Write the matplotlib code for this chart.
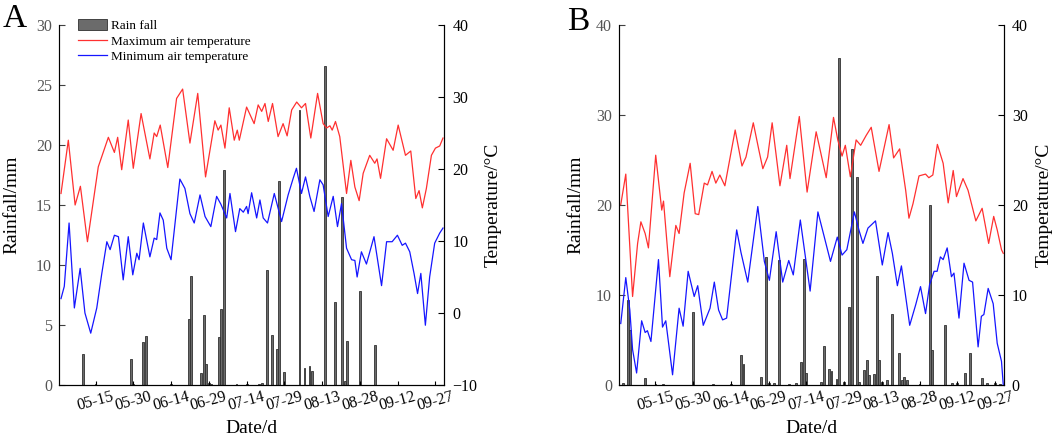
import matplotlib
matplotlib.use('Agg')
import matplotlib.pyplot as plt
from matplotlib.patches import Patch
from matplotlib.lines import Line2D

plt.rcParams['font.family'] = ['Liberation Serif', 'DejaVu Serif']

# x axis: days after 05-01
tick_days = [14, 29, 44, 59, 74, 89, 104, 119, 134, 149]
tick_labels = ['05-15', '05-30', '06-14', '06-29', '07-14', '07-29',
               '08-13', '08-28', '09-12', '09-27']

#%% panel A data
rain_a_day = [9, 14, 28, 29, 33, 34, 44, 51, 52, 56, 57, 58, 59, 60, 63, 64, 65, 70, 74,
              79, 80, 82, 84, 86, 87, 89, 95, 97, 99, 100, 105, 109, 112, 113, 114, 119, 125]
rain_a = [2.6, 0.1, 2.2, 0.1, 3.6, 4.1, 0.1, 5.5, 9.1, 1.0, 5.8, 1.75, 0.2, 0.1, 4.0, 6.3, 17.9,
          0.1, 0.1, 0.1, 0.2, 9.6, 4.2, 3.0, 17.0, 1.1, 22.9, 1.4, 1.6, 1.2, 26.6, 6.9, 15.7,
          0.3, 3.7, 7.8, 3.3]

tmax_a_day = [0.3, 3.2, 5.9, 8.0, 10.8, 15.1, 19.1, 21.5, 22.8, 24.4, 27.0, 29.0, 32.1, 35.6,
              37.3, 38.3, 39.7, 42.7, 46.2, 48.6, 51.5, 54.6, 57.7, 61.4, 62.7, 63.8, 65.4,
              67.1, 69.1, 70.3, 71.1, 74.0, 77.0, 78.6, 80.0, 81.3, 82.6, 84.3, 86.5, 88.5,
              90.1, 91.9, 93.9, 95.8, 97.4, 99.5, 102.2, 104.4, 105.8, 107.1, 108.0, 109.3,
              111.0, 113.7, 115.4, 117.0, 118.7, 120.3, 122.9, 124.9, 125.8, 127.2, 129.6,
              132.2, 134.2, 137.1, 139.2, 141.2, 142.5, 143.8, 145.4, 147.4, 149.0, 150.7, 152.0]
tmax_a = [16.6, 24.0, 15.0, 17.6, 9.9, 20.3, 24.4, 22.3, 24.4, 19.9, 26.8, 20.1, 27.7, 21.4,
          25.0, 24.5, 26.1, 20.2, 29.8, 31.1, 23.6, 30.5, 18.9, 26.7, 25.4, 26.1, 22.9, 28.5,
          24.0, 25.4, 24.0, 28.6, 26.3, 28.9, 28.0, 29.1, 26.6, 29.1, 24.5, 26.3, 24.6, 28.2,
          29.3, 28.5, 29.1, 24.3, 30.5, 26.3, 25.7, 26.0, 25.4, 26.6, 24.5, 16.6, 21.2, 17.5,
          15.6, 19.4, 21.9, 20.8, 21.4, 18.7, 24.2, 22.6, 26.1, 21.9, 22.5, 15.9, 17.0, 14.6,
          17.3, 21.9, 22.9, 23.2, 24.3]

tmin_a_day = [0.3, 1.6, 3.5, 5.6, 7.9, 9.8, 12.1, 14.5, 16.5, 18.5, 19.8, 21.5, 23.1, 25.0,
              27.0, 28.8, 30.4, 31.3, 33.0, 35.6, 37.3, 38.3, 39.6, 40.9, 42.3, 44.0, 47.5,
              49.5, 51.5, 53.2, 55.5, 57.5, 59.8, 62.1, 63.8, 66.1, 67.4, 69.6, 71.3, 72.7,
              74.0, 74.6, 76.0, 78.0, 79.3, 80.6, 82.3, 85.0, 87.9, 90.5, 92.5, 93.8, 95.8,
              97.4, 99.1, 100.8, 103.1, 104.4, 106.4, 108.4, 110.1, 111.7, 113.7, 115.7, 117.0,
              117.9, 119.6, 121.6, 124.6, 127.6, 129.6, 131.8, 133.9, 135.8, 137.1, 138.8,
              140.5, 141.9, 143.2, 145.0, 146.7, 148.7, 150.7, 152.0]
tmin_a = [2.0, 3.7, 12.5, 0.7, 6.2, 0.0, -2.8, 0.7, 5.5, 9.9, 8.8, 10.8, 10.6, 4.6, 10.6, 5.3,
          8.3, 7.4, 12.5, 7.8, 10.4, 10.2, 13.9, 12.9, 9.0, 7.4, 18.6, 17.3, 13.8, 12.5, 16.4,
          13.4, 12.0, 16.2, 15.1, 13.2, 16.6, 11.3, 14.5, 14.0, 14.8, 13.8, 16.7, 13.2, 15.7,
          13.2, 12.5, 16.6, 12.7, 16.4, 18.7, 20.1, 16.6, 18.9, 16.2, 14.1, 18.5, 17.8, 13.4,
          16.2, 12.0, 15.2, 9.0, 7.4, 7.3, 5.0, 8.5, 6.8, 10.6, 3.8, 9.9, 9.9, 10.8, 9.4, 9.7,
          8.5, 5.5, 2.7, 5.5, -1.7, 5.0, 9.7, 11.1, 11.8]

#%% panel B data
rain_b_day = [1, 3, 4, 10, 14, 17, 29, 37, 44, 48, 49, 56, 58, 59, 61, 63, 67, 70, 72, 73, 74,
              80, 81, 83, 84, 86, 87, 89, 91, 92, 94, 95, 97, 98, 99, 101, 102, 103, 104, 106,
              108, 111, 112, 113, 114, 119, 123, 124, 129, 132, 134, 137, 139, 144, 146, 149, 151]
rain_b = [0.2, 9.4, 6.1, 0.8, 0.1, 0.1, 8.1, 0.1, 0.1, 3.3, 2.3, 0.9, 14.2, 0.2, 0.2, 13.9,
          0.1, 0.2, 2.5, 14.0, 1.3, 0.3, 4.3, 1.7, 1.5, 0.6, 36.3, 0.3, 8.6, 26.2, 23.1, 0.3,
          1.6, 2.8, 1.1, 1.2, 12.1, 2.7, 0.3, 0.5, 7.9, 3.5, 0.5, 0.9, 0.5, 0.1, 20.0, 3.9,
          6.6, 0.2, 0.2, 1.3, 3.5, 0.8, 0.2, 0.2, 0.1]

tmax_b_day = [0.2, 2.2, 4.9, 6.9, 8.2, 9.9, 11.2, 14.1, 16.5, 17.2, 19.7, 22.1, 23.4, 25.4,
              27.8, 29.8, 31.2, 33.4, 34.7, 36.5, 38.0, 39.6, 41.6, 45.7, 48.4, 50.0, 52.9,
              55.1, 56.7, 58.6, 60.4, 63.5, 66.2, 67.5, 71.2, 74.3, 77.9, 81.9, 84.8, 86.5,
              88.2, 89.5, 91.5, 93.8, 95.6, 97.8, 99.8, 102.9, 106.9, 108.7, 111.1, 113.5,
              114.8, 116.4, 118.8, 121.4, 122.7, 124.3, 126.1, 128.4, 130.4, 132.4, 133.7,
              136.3, 138.3, 141.4, 143.9, 146.5, 148.5, 149.9, 151.6, 152.3]
tmax_b = [20.0, 23.4, 9.8, 15.7, 18.1, 16.8, 15.2, 25.5, 19.4, 20.4, 12.0, 17.7, 16.8, 21.3,
          24.6, 19.0, 18.9, 22.4, 22.2, 23.7, 22.4, 23.3, 22.1, 28.3, 24.3, 25.3, 29.1, 26.1,
          24.0, 25.3, 29.1, 22.1, 26.6, 22.9, 29.8, 21.4, 28.1, 23.0, 29.7, 27.2, 25.4, 26.6,
          23.1, 27.2, 26.6, 27.7, 28.6, 23.7, 28.9, 25.2, 26.2, 21.6, 18.5, 20.1, 23.2, 23.4,
          23.0, 23.3, 26.7, 24.6, 20.2, 23.8, 20.9, 22.9, 21.6, 18.2, 19.6, 15.7, 18.7, 17.2,
          15.0, 14.6]

tmin_b_day = [0.2, 2.2, 3.8, 4.9, 6.5, 8.5, 9.9, 10.8, 12.2, 15.2, 16.8, 18.1, 20.8, 23.4,
              25.0, 27.0, 29.4, 30.8, 33.0, 35.7, 37.4, 39.1, 40.7, 42.3, 46.3, 48.0, 50.7,
              54.7, 57.3, 59.3, 62.0, 64.6, 67.0, 68.8, 71.6, 75.5, 78.6, 83.6, 86.3, 88.2,
              90.1, 93.1, 94.9, 96.5, 98.5, 101.5, 104.2, 106.5, 108.2, 110.2, 111.8, 115.1,
              117.5, 119.4, 121.4, 123.0, 124.8, 126.0, 127.3, 128.4, 130.0, 131.7, 132.7,
              134.7, 136.7, 138.7, 140.1, 142.3, 143.6, 144.6, 146.3, 148.3, 149.9, 151.6, 152.3]
tmin_b = [6.8, 11.9, 8.3, 3.9, 1.3, 7.1, 5.8, 6.0, 4.8, 13.9, 6.4, 7.1, 1.1, 8.5, 6.5, 12.6,
          9.8, 11.0, 6.6, 8.5, 11.4, 8.3, 7.2, 7.4, 17.2, 14.7, 11.4, 19.8, 13.7, 11.6, 17.0,
          11.4, 13.8, 12.2, 18.3, 10.4, 19.2, 13.7, 16.4, 14.4, 15.0, 19.2, 17.2, 15.7, 17.4,
          18.2, 13.3, 16.9, 14.6, 11.0, 13.2, 6.6, 8.9, 10.9, 7.9, 11.1, 12.6, 12.6, 14.2, 13.9,
          15.2, 12.0, 12.4, 7.4, 13.5, 11.6, 11.4, 4.2, 7.6, 7.8, 10.7, 9.0, 4.6, 2.6, 0.0]

#%%
W, H = 1052, 436
fig = plt.figure(figsize=(W / 100, H / 100), dpi=100)

bar_face = '#6b6b6b'
bar_edge = '#303030'
grey_txt = '#555555'


def panel(rect, rain_day, rain, tx_day, tx, tn_day, tn, ylim_l, yt_l, ylim_r, yt_r):
    ax = fig.add_axes(rect)
    ax.bar(rain_day, rain, width=0.75, color=bar_face, edgecolor=bar_edge, linewidth=0.6)
    ax.set_xlim(-0.5, 152.4)
    ax.set_ylim(*ylim_l)
    ax.set_yticks(yt_l)
    ax.set_xticks(tick_days)
    ax.set_xticklabels(tick_labels, rotation=15, ha='center')
    ax.tick_params(axis='x', direction='in', length=3, width=0.8, labelsize=11.5, pad=3)
    ax.tick_params(axis='y', direction='in', length=4, width=0.8, labelsize=11.5, pad=5,
                   labelcolor=grey_txt, color='#404040')
    ax.spines['top'].set_visible(False)
    ax.spines['left'].set_color('#404040')
    ax.set_xlabel('Date/d', fontsize=14, labelpad=4)
    ax.set_ylabel('Rainfall/mm', fontsize=14)

    ax2 = ax.twinx()
    ax2.plot(tx_day, tx, color='#ff3030', lw=0.9)
    ax2.plot(tn_day, tn, color='#1515ff', lw=0.9)
    ax2.set_ylim(*ylim_r)
    ax2.set_yticks(yt_r)
    ax2.tick_params(axis='y', direction='in', length=4, width=0.8, labelsize=11.5, pad=6)
    ax2.spines['top'].set_visible(False)
    ax2.set_ylabel('Temperature/\u00b0C', fontsize=14)
    return ax, ax2


axA, axA2 = panel([59 / W, 1 - 385 / H, 385 / W, 360 / H],
                  rain_a_day, rain_a, tmax_a_day, tmax_a, tmin_a_day, tmin_a,
                  (0, 30), [0, 5, 10, 15, 20, 25, 30], (-10, 40), [-10, 0, 10, 20, 30, 40])
axA.yaxis.set_label_coords(-0.10, 0.5)
axA2.yaxis.set_label_coords(1.105, 0.5)

axB, axB2 = panel([619 / W, 1 - 384.7 / H, 384.5 / W, 360 / H],
                  rain_b_day, rain_b, tmax_b_day, tmax_b, tmin_b_day, tmin_b,
                  (0, 40), [0, 10, 20, 30, 40], (0, 40), [0, 10, 20, 30, 40])
axB.yaxis.set_label_coords(-0.09, 0.5)
axB2.yaxis.set_label_coords(1.085, 0.5)

fig.text(3 / W, 1 - 27 / H, 'A', fontsize=24, ha='left', va='baseline')
fig.text(567 / W, 1 - 30 / H, 'B', fontsize=24, ha='left', va='baseline')

handles = [Patch(facecolor=bar_face, edgecolor=bar_edge, linewidth=0.6),
           Line2D([], [], color='#ff3030', lw=0.9),
           Line2D([], [], color='#1515ff', lw=0.9)]
labels = ['Rain fall', 'Maximum air temperature', 'Minimum air temperature']
fig.legend(handles, labels, loc='upper left', bbox_to_anchor=(78 / W, 1 - 19 / H),
           frameon=False, fontsize=9.5, borderpad=0, borderaxespad=0,
           handlelength=2.2, handleheight=0.9, handletextpad=0.3, labelspacing=0.2)

fig.savefig('out.png', dpi=100)
